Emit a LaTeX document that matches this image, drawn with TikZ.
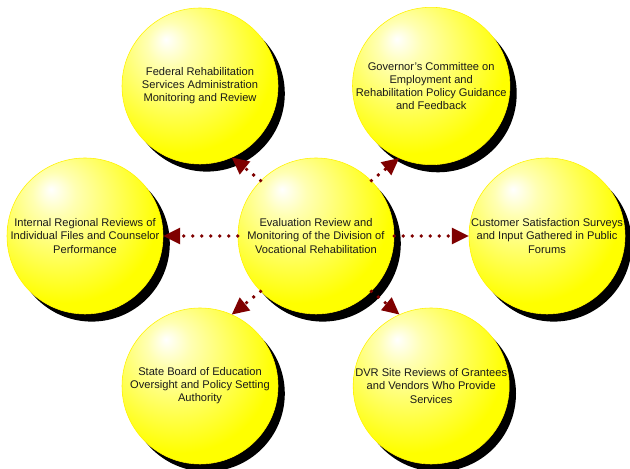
\documentclass[tikz,border=0pt]{standalone}
\usepackage{fontspec}
\setmainfont{Liberation Sans}
\usetikzlibrary{shapes,arrows.meta,positioning,shadows}

\definecolor{arrowred}{HTML}{7F0000}
\pgfdeclareradialshading{yellowball}{\pgfpoint{-11bp}{15bp}}{%
  color(0bp)=(white); color(7bp)=(white!70!yellow); color(30bp)=(yellow);
  color(70bp)=(yellow)}

\tikzset{
  ball/.style={circle, minimum size=3.9cm, inner sep=0pt, draw=yellow, thin,
    shading=yellowball, text=black!90, align=center,
    font=\fontsize{7.9}{9.3}\selectfont,
    drop shadow={shadow xshift=0.17cm, shadow yshift=-0.19cm, fill=black, opacity=1}},
  feed/.style={draw=arrowred, line width=2.7pt, line cap=round,
    dash pattern=on 0pt off 6.4pt,
    -{Triangle[length=12pt, width=12pt, fill=arrowred, line width=0pt]}}
}

\begin{document}
\begin{tikzpicture}[node distance=5.775cm]
    \useasboundingbox (0,0) rectangle (15.75,11.725);
    \node (eval) [ball] at (7.9,5.825)
        {Evaluation Review and\\Monitoring of the Division of\\Vocational Rehabilitation};
    \node (int) [ball, left of=eval]
        {Internal Regional Reviews of\\Individual Files and Counselor\\Performance};
    \node (cust) [ball, right of=eval]
        {Customer Satisfaction Surveys\\and Input Gathered in Public\\Forums};
    \node (fed) [ball, above of=eval, node distance=3.75cm, xshift=-2.9cm]
        {Federal Rehabilitation\\Services Administration\\Monitoring and Review};
    \node (gov) [ball, above of=eval, node distance=3.75cm, xshift=2.88cm]
        {Governor's Committee on\\Employment and\\Rehabilitation Policy Guidance\\and Feedback};
    \node (state) [ball, below of=eval, node distance=3.75cm, xshift=-2.9cm]
        {State Board of Education\\Oversight and Policy Setting\\Authority};
    \node (dvr) [ball, below of=eval, node distance=3.75cm, xshift=2.88cm]
        {DVR Site Reviews of Grantees\\and Vendors Who Provide\\Services};

    % dotted feedback links
    \draw [feed] (eval.west) -- (int.east);
    \draw [feed] (eval.east) -- (cust.west);
    \draw [feed] (eval.135) -- (fed.-66);
    \draw [feed] (eval.45) -- (gov.-114);
    \draw [feed] (eval.225) -- (state.66);
    \draw [feed] (eval.-45) -- (dvr.114);
\end{tikzpicture}
\end{document}
